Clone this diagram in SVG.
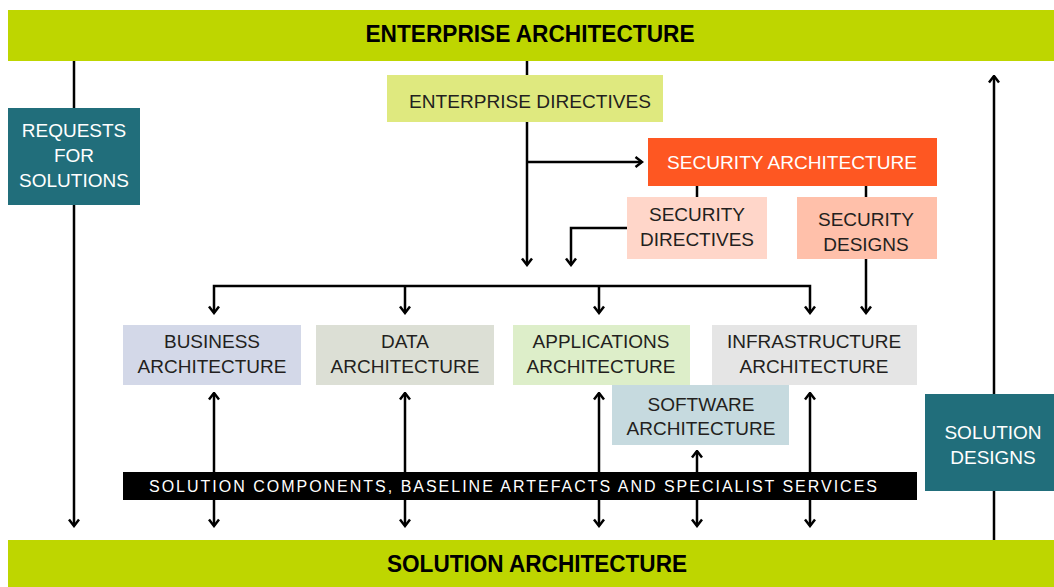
<svg xmlns="http://www.w3.org/2000/svg" width="1054" height="587" viewBox="0 0 1054 587">
<style>
text{font-family:"Liberation Sans",Arial,sans-serif;font-size:19px;text-anchor:middle;fill:#231f20}
.title{font-weight:bold;font-size:24px;fill:#000}
.w{fill:#fff}
.ln{stroke:#000;stroke-width:2.5;fill:none}
.bar{fill:#bed600}
.teal{fill:#216e7b}
</style>
<defs>
<marker id="ah" viewBox="0 0 12 12" refX="10.5" refY="6" markerWidth="12" markerHeight="12" markerUnits="userSpaceOnUse" orient="auto-start-reverse">
<path d="M4,1 L10.5,6 L4,11" fill="none" stroke="#000" stroke-width="2.5"/>
</marker>
</defs>
<rect width="1054" height="587" fill="#fff"/>

<g id="connectors" class="ln">
<path d="M74,61 V108"/>
<path d="M74,205 V526" marker-end="url(#ah)"/>
<path d="M527,61 V75"/>
<path d="M527,122 V265" marker-end="url(#ah)"/>
<path d="M527,162 H642" marker-end="url(#ah)"/>
<path d="M697,186 V197"/>
<path d="M866,186 V197"/>
<path d="M627,228 H571 V265" marker-end="url(#ah)"/>
<path d="M866,259 V313" marker-end="url(#ah)"/>
<path d="M214,313 V286 H810 V313" marker-start="url(#ah)" marker-end="url(#ah)"/>
<path d="M405,286 V313" marker-end="url(#ah)"/>
<path d="M599,286 V313" marker-end="url(#ah)"/>
<path d="M214,393 V526" marker-start="url(#ah)" marker-end="url(#ah)"/>
<path d="M405,393 V526" marker-start="url(#ah)" marker-end="url(#ah)"/>
<path d="M599,393 V526" marker-start="url(#ah)" marker-end="url(#ah)"/>
<path d="M697,451 V526" marker-start="url(#ah)" marker-end="url(#ah)"/>
<path d="M810,393 V526" marker-start="url(#ah)" marker-end="url(#ah)"/>
<path d="M994,394 V76" marker-end="url(#ah)"/>
<path d="M994,491 V540"/>
</g>

<g id="enterprise-architecture">
<rect class="bar" x="8" y="10" width="1046" height="51"/>
<text class="title" x="530" y="42" textLength="329" lengthAdjust="spacingAndGlyphs">ENTERPRISE ARCHITECTURE</text>
</g>
<g id="solution-architecture">
<rect class="bar" x="8" y="540" width="1046" height="47"/>
<text class="title" x="537" y="572" textLength="300" lengthAdjust="spacingAndGlyphs">SOLUTION ARCHITECTURE</text>
</g>
<g id="requests-for-solutions">
<rect class="teal" x="8" y="108" width="132" height="97"/>
<text class="w" x="74" y="137">REQUESTS</text>
<text class="w" x="74" y="162">FOR</text>
<text class="w" x="74" y="187">SOLUTIONS</text>
</g>
<g id="enterprise-directives">
<rect fill="#dfe97f" x="387" y="75" width="276" height="47"/>
<text x="530" y="108" textLength="242" lengthAdjust="spacingAndGlyphs">ENTERPRISE DIRECTIVES</text>
</g>
<g id="security-architecture">
<rect fill="#fe5722" x="648" y="138" width="289" height="48"/>
<text class="w" x="792" y="169" textLength="250" lengthAdjust="spacingAndGlyphs">SECURITY ARCHITECTURE</text>
</g>
<g id="security-directives">
<rect fill="#ffd6c9" x="627" y="197" width="140" height="62"/>
<text x="697" y="221">SECURITY</text>
<text x="697" y="246">DIRECTIVES</text>
</g>
<g id="security-designs">
<rect fill="#ffc0aa" x="797" y="197" width="140" height="62"/>
<text x="866" y="226">SECURITY</text>
<text x="866" y="251">DESIGNS</text>
</g>
<g id="business-architecture">
<rect fill="#d3d8e8" x="123" y="325" width="178" height="60"/>
<text x="212" y="348">BUSINESS</text>
<text x="212" y="373">ARCHITECTURE</text>
</g>
<g id="data-architecture">
<rect fill="#dcdfd5" x="316" y="325" width="178" height="60"/>
<text x="405" y="348">DATA</text>
<text x="405" y="373">ARCHITECTURE</text>
</g>
<g id="applications-architecture">
<rect fill="#ddeec9" x="513" y="325" width="177" height="60"/>
<text x="601" y="348">APPLICATIONS</text>
<text x="601" y="373">ARCHITECTURE</text>
</g>
<g id="infrastructure-architecture">
<rect fill="#e5e5e5" x="712" y="325" width="205" height="60"/>
<text x="814" y="348">INFRASTRUCTURE</text>
<text x="814" y="373">ARCHITECTURE</text>
</g>
<g id="software-architecture">
<rect fill="#c6dadf" x="612" y="385" width="177" height="60"/>
<text x="701" y="411">SOFTWARE</text>
<text x="701" y="435">ARCHITECTURE</text>
</g>
<g id="solution-components">
<rect fill="#000" x="123" y="472" width="794" height="28"/>
<text class="w" x="513" y="492" style="font-size:16px" textLength="728" lengthAdjust="spacing">SOLUTION COMPONENTS, BASELINE ARTEFACTS AND SPECIALIST SERVICES</text>
</g>
<g id="solution-designs">
<rect class="teal" x="925" y="394" width="129" height="97"/>
<text class="w" x="993" y="439">SOLUTION</text>
<text class="w" x="993" y="464">DESIGNS</text>
</g>
</svg>
